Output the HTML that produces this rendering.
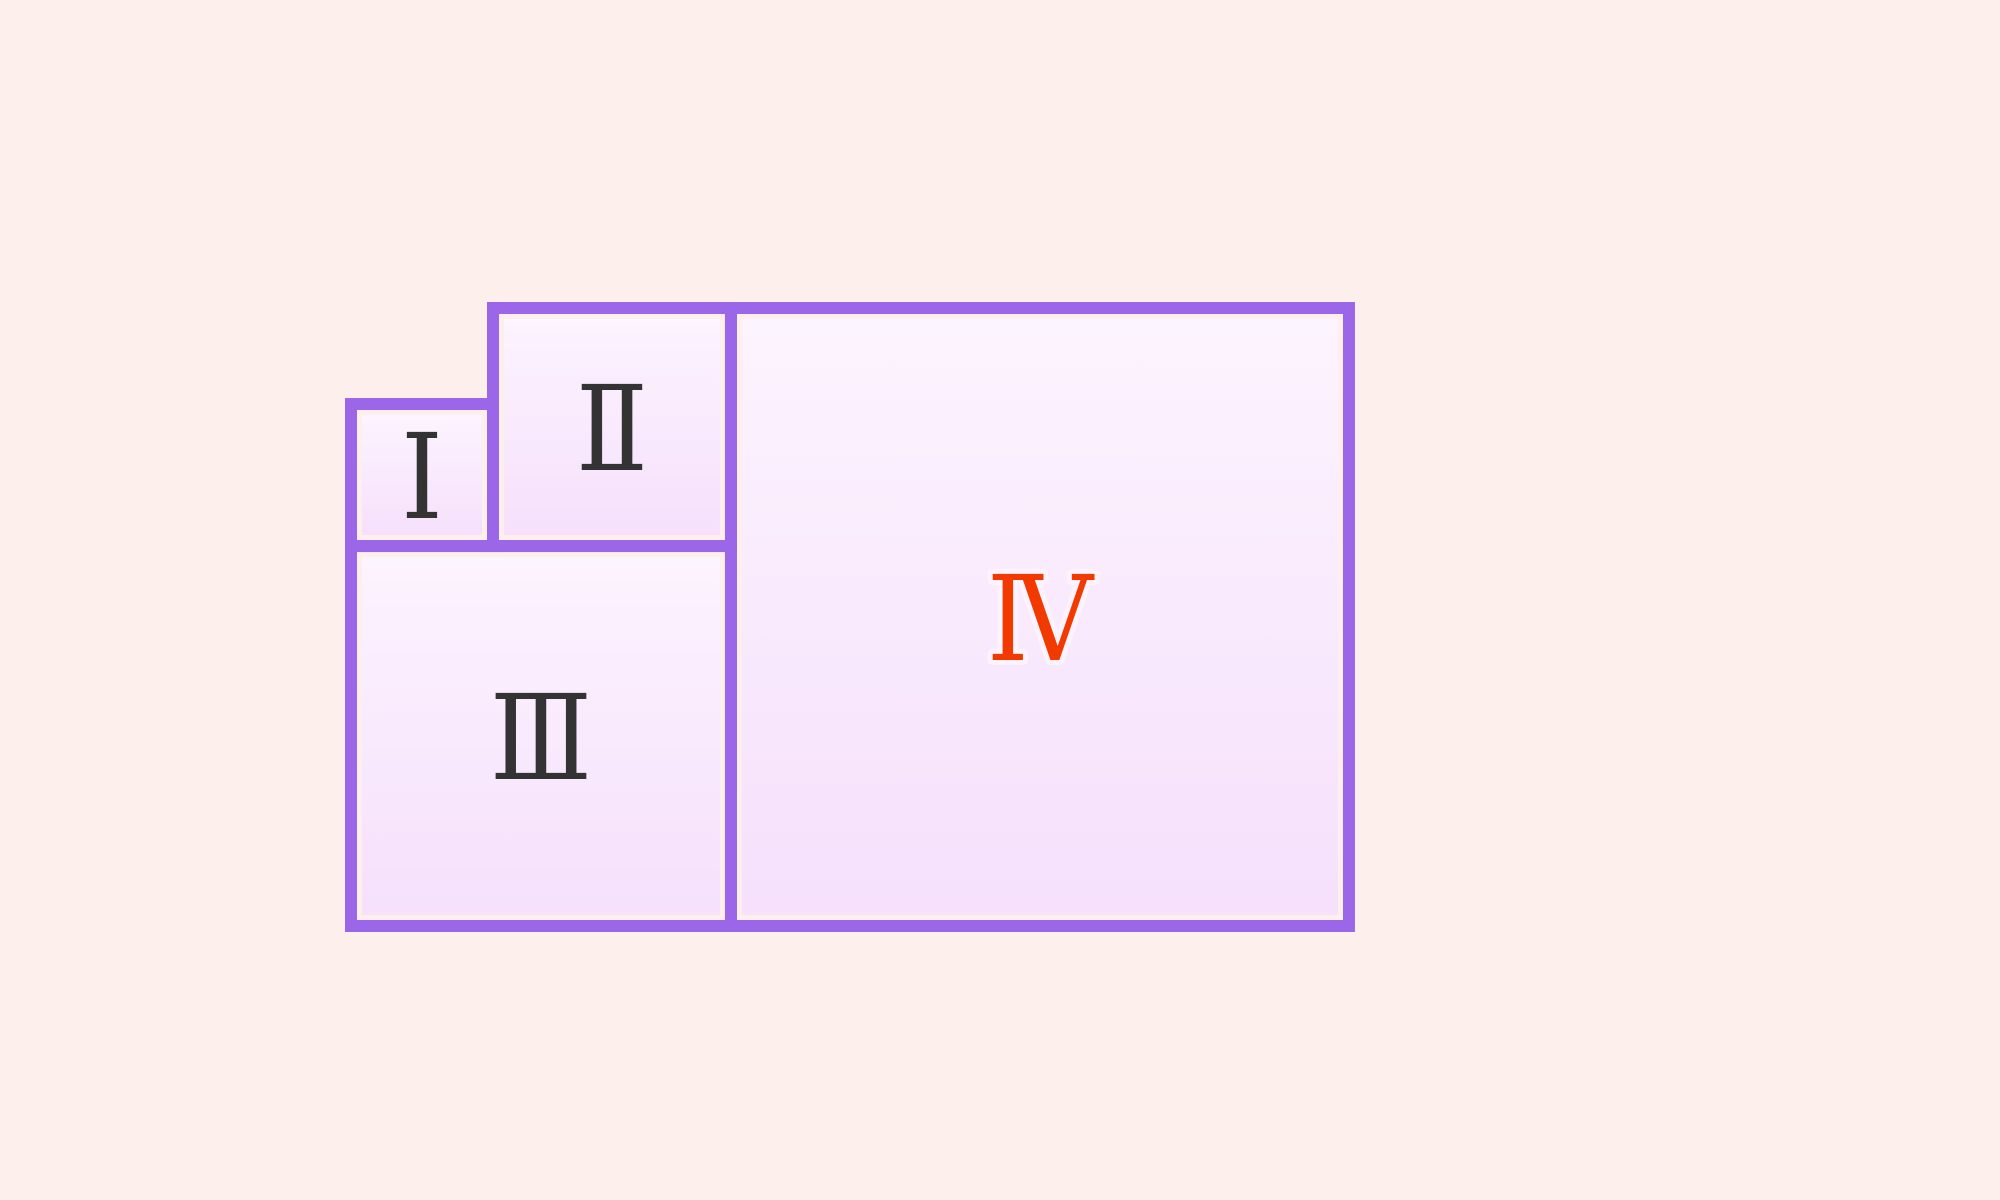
<!DOCTYPE html>
<html><head><meta charset="utf-8"><style>
html,body{margin:0;padding:0;background:#fdefeb;}
svg{display:block;}
</style></head><body>
<svg width="2000" height="1200" viewBox="0 0 2000 1200">
<defs>
<linearGradient id="g" x1="0" y1="0" x2="0" y2="1">
<stop offset="0" stop-color="#fcf4fe"/><stop offset="1" stop-color="#f6e0fc"/>
</linearGradient>
</defs>
<rect width="2000" height="1200" fill="#fdefeb"/>
<g id="tiles"></g>
</svg>
<script>
const labels = ["Ⅰ","Ⅱ","Ⅲ","Ⅳ"];
const values = [1, 2.81, 7.16, 18.94];
const highlight = [false,false,false,true];
const svg = document.getElementById('tiles');
const NS = "http://www.w3.org/2000/svg";
const unit = 142;
const side = values.map(v => Math.sqrt(v) * unit);
const x0 = 351, yBottom = 926;
const r = [];
r[2] = {x:x0, y:yBottom-side[2], w:side[2], h:side[2]};
r[0] = {x:x0, y:r[2].y-side[0], w:side[0], h:side[0]};
r[1] = {x:x0+side[0], y:r[2].y-side[1], w:r[2].w-side[0], h:side[1]};
r[3] = {x:x0+side[2], y:yBottom-side[3], w:side[3], h:side[3]};
r.forEach((t,i)=>{
  const g = document.createElementNS(NS,'g');
  
  
  const inner = document.createElementNS(NS,'rect');
  inner.setAttribute('x',t.x+11); inner.setAttribute('y',t.y+11);
  inner.setAttribute('width',t.w-22); inner.setAttribute('height',t.h-22);
  inner.setAttribute('fill','url(#g)');
  
  
  g.appendChild(inner);
  const b = document.createElementNS(NS,'rect');
  b.setAttribute('x',t.x); b.setAttribute('y',t.y);
  b.setAttribute('width',t.w); b.setAttribute('height',t.h);
  b.setAttribute('fill','none'); b.setAttribute('stroke','#9b66e8'); b.setAttribute('stroke-width','12');
  
  
  g.appendChild(b);
  const tx = document.createElementNS(NS,'text');
  tx.setAttribute('x',t.x+t.w/2); tx.setAttribute('y',t.y+t.h/2+43);
  tx.setAttribute('text-anchor','middle');
  tx.setAttribute('font-family','"DejaVu Serif Condensed", "DejaVu Serif", "Liberation Serif", serif');
  tx.setAttribute('font-stretch','condensed');
  tx.setAttribute('font-size','118');
  tx.setAttribute('fill', highlight[i] ? '#f23a00' : '#333333');
  if (highlight[i]) { tx.setAttribute('stroke','#fdf3fe'); tx.setAttribute('stroke-width','10'); tx.setAttribute('paint-order','stroke'); tx.setAttribute('stroke-linejoin','round'); }
  
  
  tx.textContent = labels[i];
  g.appendChild(tx);
  svg.appendChild(g);
});
</script>
</body></html>
